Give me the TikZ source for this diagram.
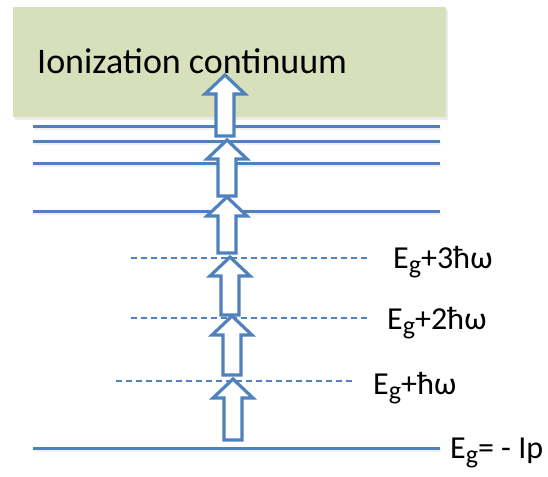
\documentclass[tikz,border=0pt]{standalone}
\usepackage{fontspec}
\setmainfont{Carlito}
\definecolor{lvlblue}{HTML}{4F81BD}
\definecolor{contfill}{HTML}{D7E0BA}
\newcommand\lowsub[1]{\raisebox{-5pt}{\fontsize{26}{26}\selectfont #1}}
\newcommand\blockarr[3]{%
  \draw[photon] (#1-9,#2) -- (#1-9,#3+19) -- (#1-20,#3+19) -- (#1,#3)
    -- (#1+20,#3+19) -- (#1+9,#3+19) -- (#1+9,#2) -- cycle;}
\begin{document}
\begin{tikzpicture}[x=1pt,y=-1pt,
  level/.style={draw=lvlblue,line width=3pt},
  levelshadow/.style={draw=black!6,line width=3pt},
  virtual/.style={draw=lvlblue,line width=1.3pt,dash pattern=on 6pt off 4pt},
  photon/.style={draw=lvlblue,fill=white,line width=3.2pt,line join=miter},
  lbl/.style={inner sep=0pt,anchor=base west,font=\fontsize{32}{36}\selectfont}]
\useasboundingbox (0,0) rectangle (548,476);
% continuum box
\fill[black!8] (15,10) rectangle (448,120);
\fill[contfill] (13,7) rectangle (446,117);
\node[inner sep=0pt,anchor=base west,font=\fontsize{36}{40}\selectfont] (title) at (37,74) {Ionization continuum};
% bound levels
\foreach \yy in {126,141,163,211,448} {
  \draw[levelshadow] (34,\yy+2.5) -- (441,\yy+2.5);
  \draw[level] (33,\yy) -- (440,\yy);
}
% virtual levels
\draw[virtual] (131,258) -- (370,258);
\draw[virtual] (131,318) -- (370,318);
\draw[virtual] (116,381) -- (355,381);
% labels
\node[lbl] (l3) at (393,268) {E\lowsub{g}+3ħω};
\node[lbl] (l2) at (387,329) {E\lowsub{g}+2ħω};
\node[lbl] (l1) at (373,394) {E\lowsub{g}+ħω};
\node[lbl] (l0) at (450,458) {E\lowsub{g}= - Ip};
% photon arrows
\blockarr{233}{440}{379}
\blockarr{232}{375}{316}
\blockarr{230}{315}{257}
\blockarr{227}{253}{197}
\blockarr{227}{196}{140}
\blockarr{225}{136}{75}
\end{tikzpicture}
\end{document}
